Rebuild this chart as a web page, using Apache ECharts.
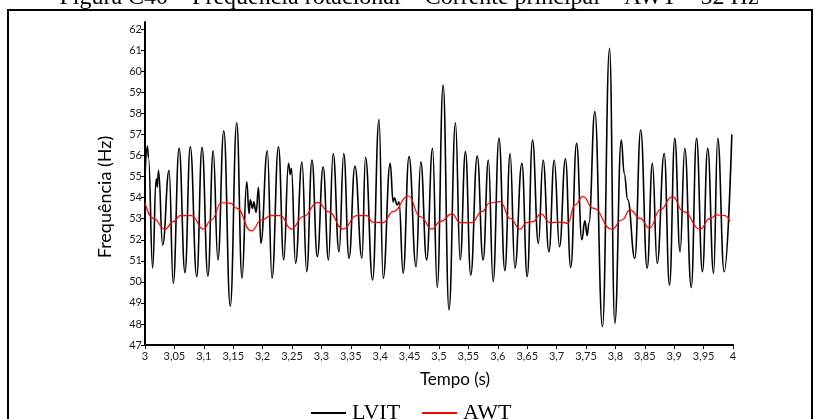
<!DOCTYPE html>
<html>
<head>
<meta charset="utf-8">
<script src="https://cdn.jsdelivr.net/npm/echarts@6/dist/echarts.min.js"></script>
<style>
  html, body { margin: 0; padding: 0; background: #fff; }
  #chart { width: 818px; height: 419px; }
</style>
</head>
<body>
<div id="chart"></div>
<script>
// Rotational frequency, main current, 3 s to 4 s
const figureTitle = 'Figura C40 – Frequência rotacional – Corrente principal – AWT – 52 Hz';
const seriesNames = ['LVIT', 'AWT'];

// LVIT: time (s) and frequency (Hz)
const lvitTime = [
  3.000, 3.004, 3.006, 3.013, 3.019, 3.021, 3.023, 3.030, 3.041, 3.048,
  3.058, 3.068, 3.077, 3.088, 3.097, 3.107, 3.116, 3.124, 3.134, 3.145,
  3.156, 3.165, 3.173, 3.177, 3.179, 3.183, 3.185, 3.189, 3.193, 3.197,
  3.208, 3.216, 3.227, 3.236, 3.244, 3.247, 3.249, 3.256, 3.267, 3.275,
  3.284, 3.293, 3.303, 3.312, 3.320, 3.330, 3.338, 3.347, 3.357, 3.369,
  3.375, 3.387, 3.398, 3.405, 3.417, 3.422, 3.424, 3.429, 3.432, 3.439,
  3.449, 3.461, 3.469, 3.479, 3.489, 3.497, 3.507, 3.517, 3.528, 3.536,
  3.545, 3.554, 3.565, 3.575, 3.584, 3.592, 3.602, 3.612, 3.621, 3.629,
  3.641, 3.650, 3.659, 3.669, 3.677, 3.687, 3.696, 3.705, 3.715, 3.724,
  3.734, 3.743, 3.748, 3.752, 3.755, 3.765, 3.778, 3.790, 3.799, 3.810,
  3.815, 3.821, 3.833, 3.843, 3.854, 3.863, 3.871, 3.883, 3.892, 3.901,
  3.910, 3.918, 3.929, 3.938, 3.948, 3.957, 3.967, 3.974, 3.985, 3.998
];
const lvitFreq = [
  55.0, 56.45, 55.9, 50.65, 54.9, 54.5, 55.3, 51.75, 55.3, 49.93,
  56.35, 50.44, 56.42, 50.25, 56.4, 50.28, 56.23, 51.04, 57.18, 48.85,
  57.56, 50.17, 54.76, 53.25, 53.9, 53.5, 53.8, 53.3, 54.5, 51.83,
  56.23, 50.17, 56.42, 51.04, 55.63, 55.1, 55.4, 50.88, 55.7, 50.48,
  55.79, 51.2, 55.47, 51.04, 56.1, 51.43, 56.1, 51.12, 55.5, 51.12,
  55.92, 50.09, 57.72, 50.17, 55.63, 53.8, 54.0, 53.65, 53.8, 50.41,
  55.95, 50.72, 55.71, 51.04, 56.35, 49.74, 59.35, 48.67, 57.56, 51.04,
  56.19, 50.33, 55.98, 51.04, 55.79, 50.01, 56.82, 50.53, 56.1, 50.65,
  55.63, 50.25, 56.74, 51.83, 55.79, 51.43, 55.79, 51.67, 55.85, 50.69,
  56.58, 52.0, 52.9, 52.2, 52.8, 58.09, 47.87, 61.1, 48.03, 56.74,
  55.16, 53.9, 51.12, 57.22, 50.65, 55.63, 50.88, 56.1, 49.85, 56.82,
  51.43, 56.35, 49.74, 56.82, 50.48, 56.35, 50.41, 56.82, 50.48, 57.0
];

// AWT: time (s) and frequency (Hz)
const awtTime = [
  3.000, 3.014, 3.034, 3.048, 3.060, 3.079, 3.099, 3.113, 3.130, 3.145,
  3.156, 3.181, 3.198, 3.215, 3.230, 3.249, 3.269, 3.294, 3.312, 3.337,
  3.360, 3.377, 3.388, 3.405, 3.422, 3.448, 3.468, 3.488, 3.502, 3.522,
  3.536, 3.556, 3.573, 3.587, 3.604, 3.621, 3.638, 3.649, 3.660, 3.673,
  3.689, 3.711, 3.719, 3.731, 3.745, 3.762, 3.794, 3.811, 3.825, 3.842,
  3.858, 3.876, 3.897, 3.916, 3.944, 3.961, 3.972, 3.986, 3.995
];
const awtFreq = [
  53.76, 53.02, 52.51, 52.86, 53.15, 53.15, 52.51, 52.94, 53.76, 53.74,
  53.5, 52.42, 52.94, 53.15, 53.15, 52.51, 53.1, 53.78, 53.34, 52.51,
  53.15, 53.15, 52.83, 52.82, 53.34, 54.08, 53.1, 52.51, 52.86, 53.23,
  52.82, 52.82, 53.34, 53.76, 53.81, 53.02, 52.51, 52.82, 52.86, 53.23,
  52.82, 52.83, 52.78, 53.65, 54.05, 53.5, 52.5, 52.94, 53.42, 53.02,
  52.55, 53.42, 54.05, 53.34, 52.5, 53.02, 53.18, 53.15, 52.86
];

// Axis ranges and tick values
const xMin = 3, xMax = 4, xStep = 0.05;
const yMin = 47, yMax = 62.35;
const yTicks = [47, 48, 49, 50, 51, 52, 53, 54, 55, 56, 57, 58, 59, 60, 61, 62];
const xTitle = 'Tempo (s)';
const yTitle = 'Frequência (Hz)';

const pair = (xs, ys) => xs.map((x, i) => [x, ys[i]]);
const commaNum = v => String(Math.round(v * 100) / 100).replace('.', ',');

const sansFont = 'Lato, "Noto Sans", sans-serif';
const serifFont = '"Liberation Serif", "DejaVu Serif", serif';

const chart = echarts.init(document.getElementById('chart'), null, { renderer: 'canvas' });
chart.setOption({
  animation: false,
  backgroundColor: '#ffffff',
  grid: { left: 145, right: 85, top: 22, bottom: 74, containLabel: false },
  xAxis: {
    type: 'value', min: xMin, max: xMax, interval: xStep,
    axisLine: { show: true, lineStyle: { color: '#000', width: 2 } },
    axisTick: { show: true, length: 4, lineStyle: { color: '#000', width: 1 } },
    axisLabel: {
      margin: 6, color: '#1a1a1a', fontFamily: sansFont, fontSize: 11,
      formatter: commaNum
    },
    splitLine: { show: false }
  },
  yAxis: {
    type: 'value', min: yMin, max: yMax,
    axisLine: { show: true, lineStyle: { color: '#000', width: 2 } },
    axisTick: { show: true, length: 4, customValues: yTicks, lineStyle: { color: '#000', width: 1 } },
    axisLabel: {
      margin: 3, color: '#1a1a1a', fontFamily: sansFont, fontSize: 11,
      customValues: yTicks
    },
    splitLine: { show: false }
  },
  legend: {
    left: 306, top: 397,
    itemWidth: 35, itemHeight: 2, itemGap: 22,
    icon: 'rect',
    textStyle: { fontFamily: serifFont, fontSize: 22, color: '#000', padding: [0, 0, 0, 1] },
    data: seriesNames
  },
  series: [
    {
      name: seriesNames[0], type: 'line', data: pair(lvitTime, lvitFreq),
      showSymbol: false, smooth: 0.45, smoothMonotone: 'x',
      lineStyle: { color: '#000', width: 1.6 }, itemStyle: { color: '#000' }, z: 2
    },
    {
      name: seriesNames[1], type: 'line', data: pair(awtTime, awtFreq),
      showSymbol: false, smooth: 0.5, smoothMonotone: 'x',
      lineStyle: { color: '#ff0000', width: 1.2 }, itemStyle: { color: '#ff0000' }, z: 3
    }
  ],
  graphic: [
    {
      type: 'rect', silent: true,
      shape: { x: 8, y: 10, width: 804, height: 430 },
      style: { fill: 'none', stroke: '#000', lineWidth: 2 }
    },
    {
      type: 'text', silent: true, x: 409, y: 10,
      style: {
        text: figureTitle, fontFamily: serifFont, fontSize: 24, fill: '#000',
        textAlign: 'center', textVerticalAlign: 'bottom'
      }
    },
    {
      type: 'text', silent: true, x: 455, y: 380,
      style: {
        text: xTitle, fontFamily: sansFont, fontSize: 17, fill: '#000',
        textAlign: 'center', textVerticalAlign: 'middle'
      }
    },
    {
      type: 'text', silent: true, x: 105, y: 197, rotation: Math.PI / 2,
      style: {
        text: yTitle, fontFamily: sansFont, fontSize: 18, fill: '#000',
        textAlign: 'center', textVerticalAlign: 'middle'
      }
    }
  ]
});
</script>
</body>
</html>
